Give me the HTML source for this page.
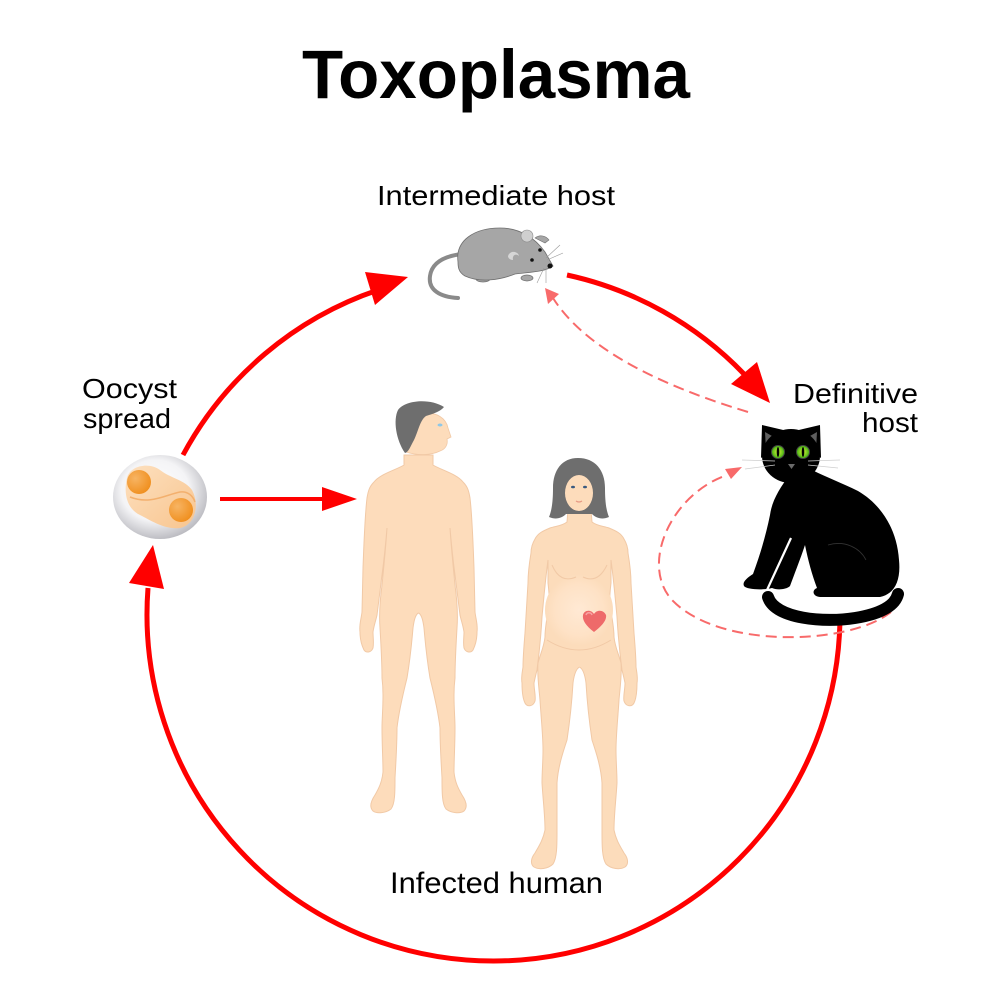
<!DOCTYPE html>
<html><head><meta charset="utf-8"><style>
html,body{margin:0;padding:0;background:#fff;}
svg{display:block;}
text{font-family:"Liberation Sans",Arial,sans-serif;fill:#000;}
</style></head><body>
<svg width="1000" height="1000" viewBox="0 0 1000 1000" xmlns="http://www.w3.org/2000/svg">
<defs>
<radialGradient id="oo" cx="0.45" cy="0.42" r="0.6">
<stop offset="0" stop-color="#ffffff"/><stop offset="0.6" stop-color="#f4f4f6"/><stop offset="1" stop-color="#b9b9bf"/>
</radialGradient>
<linearGradient id="blob" x1="0" y1="0" x2="1" y2="1">
<stop offset="0" stop-color="#fde0bf"/><stop offset="1" stop-color="#f8c58f"/>
</linearGradient>
<radialGradient id="nuc" cx="0.35" cy="0.35" r="0.7">
<stop offset="0" stop-color="#f7b463"/><stop offset="1" stop-color="#f08f1e"/>
</radialGradient>
<radialGradient id="belly" cx="0.5" cy="0.5" r="0.5">
<stop offset="0" stop-color="#ffe9d4"/><stop offset="0.7" stop-color="#fee2c6"/><stop offset="1" stop-color="#fcdcbb"/>
</radialGradient>
<radialGradient id="eye" cx="0.5" cy="0.5" r="0.5">
<stop offset="0" stop-color="#d8f53a"/><stop offset="1" stop-color="#3fae12"/>
</radialGradient>
<g id="manhalf">
<path d="M418.5 455 L404 455 L404 465 C396 470 380 474 374 482 C369 487 368 492 367 498 C365 515 364 540 363 568 L362 612 C361 620 359 625 360 632 C360 640 362 646 364 650 C366 653 371 653 373 648 C374 643 373 637 373 632 C374 625 376 620 377 615 L382 575 C384 560 386 540 387 528 C386 545 384 565 382 585 C380 600 379 615 380 628 C381 645 382 662 382 678 C383 686 383 690 383 695 C383 710 382 718 382 728 C382 745 383 760 383 772 C382 782 379 788 375 795 C371 801 369 807 373 811 C377 814 386 813 391 809 C395 804 395 792 395 778 C396 760 397 745 397 728 C399 710 404 690 407 678 C410 660 412 640 413 628 C414 620 416 614 418.5 613" fill="#fddcbb" stroke="#f1c9a6" stroke-width="1"/>
</g>
<g id="womanhalf">
<path d="M579.5 510 L568 510 L567 522 C562 526 556 526 550 528 C543 531 538 533 535 539 C532 544 531 548 531 553 C529 565 528 575 528 583 C527 600 526 617 525 633 C524 645 523 657 523 667 C522 674 521 678 522 683 C522 692 523 699 525 703 C527 707 533 707 535 701 C536 696 534 690 534 683 C535 678 536 674 537 670 C539 655 541 635 542 617 C544 595 546 575 548 560 C548 570 548 577 548 583 C549 592 550 600 549 607 C547 617 545 627 545 637 C544 647 540 655 538 663 C537 675 539 688 540 700 C541 717 543 735 543 750 C543 762 542 772 542 783 C543 800 545 815 545 830 C543 840 539 846 535 853 C531 858 530 864 534 867 C539 870 548 869 553 864 C557 858 557 845 557 833 C557 815 557 800 557 783 C558 767 563 752 567 740 C570 720 572 700 573 683 C574 675 576 669 579.5 667" fill="#fcdcbb" stroke="#f1c9a6" stroke-width="1"/>
</g>
</defs>

<!-- Title & labels -->
<text x="302" y="98" font-size="69" font-weight="bold" textLength="388" lengthAdjust="spacingAndGlyphs">Toxoplasma</text>
<text x="377" y="205" font-size="28" textLength="238" lengthAdjust="spacingAndGlyphs">Intermediate host</text>
<text x="82" y="398" font-size="28" textLength="95" lengthAdjust="spacingAndGlyphs">Oocyst</text>
<text x="83" y="428" font-size="28" textLength="88" lengthAdjust="spacingAndGlyphs">spread</text>
<text x="793" y="403" font-size="28" textLength="125" lengthAdjust="spacingAndGlyphs">Definitive</text>
<text x="862" y="432" font-size="28" textLength="56" lengthAdjust="spacingAndGlyphs">host</text>
<text x="390" y="893" font-size="30" textLength="213" lengthAdjust="spacingAndGlyphs">Infected human</text>

<!-- Main red cycle arrows -->
<g fill="none" stroke="#ff0000" stroke-width="5">
<path d="M183 455 A348 348 0 0 1 378 290"/>
<path d="M567 275 A348 348 0 0 1 744 374"/>
<path d="M840 614.5 A346.5 346.5 0 0 1 493.5 961 A346.5 346.5 0 0 1 148 588"/>
<path d="M220 499 L330 499" stroke-width="4"/>
</g>
<g fill="#ff0000">
<polygon points="408,277 365,272 375,305"/>
<polygon points="770,403 731,384 757,362"/>
<polygon points="153,545 129,583 164,589"/>
<polygon points="357,499 322,487 322,511"/>
</g>

<!-- Dashed arrows -->
<g fill="none" stroke="#f86a6a" stroke-width="2" stroke-dasharray="11 6">
<path d="M748 412 Q596 366 553 298"/>
<path d="M891 612 C850 645 720 650 672 600 C640 565 670 495 727 475"/>
</g>
<g fill="#f86a6a">
<polygon points="545,288 548,304 559,294"/>
<polygon points="742,467 725,469 731,479"/>
</g>

<!-- Oocyst -->
<ellipse cx="160" cy="497" rx="47" ry="42" fill="url(#oo)"/>
<path d="M127 478 C130 465 150 462 160 470 C170 478 185 480 192 490 C200 505 195 525 180 528 C165 530 150 520 140 515 C125 508 124 490 127 478 Z" fill="url(#blob)"/>
<path d="M130 497 C150 505 165 495 180 492 C188 491 193 496 195 502" fill="none" stroke="#f3b06e" stroke-width="1.5"/>
<circle cx="139" cy="482" r="12" fill="url(#nuc)"/>
<circle cx="181" cy="510" r="12" fill="url(#nuc)"/>

<!-- Mouse -->
<path d="M462 254 C445 256 432 262 430 276 C428 290 440 297 458 298" fill="none" stroke="#8a8a8a" stroke-width="4" stroke-linecap="round"/>
<ellipse cx="483" cy="279" rx="7" ry="3" fill="#a6a6a6" stroke="#6f6f6f" stroke-width="0.7"/>
<ellipse cx="527" cy="278" rx="6" ry="3" fill="#a6a6a6" stroke="#6f6f6f" stroke-width="0.7"/>
<path d="M458 262 C455 240 475 228 500 228 C520 228 535 238 545 252 L553 266 C545 272 530 272 515 274 C500 280 480 283 465 276 C458 272 458 266 458 262 Z" fill="#a6a6a6" stroke="#6f6f6f" stroke-width="0.8"/>
<path d="M535 238 C540 234 546 236 549 240 L545 243 Z" fill="#a6a6a6" stroke="#6f6f6f" stroke-width="0.6"/>
<circle cx="527" cy="236" r="6" fill="#cfcfcf" stroke="#8a8a8a" stroke-width="0.6"/>
<path d="M508 256 C510 250 518 251 519 256 C516 253 512 255 513 260 C510 260 508 258 508 256 Z" fill="#d6d6d6"/>
<circle cx="540" cy="250" r="1.8" fill="#111"/>
<circle cx="532" cy="260" r="1.8" fill="#111"/>
<circle cx="550" cy="266" r="2.5" fill="#111"/>
<g stroke="#999" stroke-width="0.6" fill="none">
<path d="M546 258 L560 245"/><path d="M547 260 L563 253"/><path d="M544 268 L537 283"/><path d="M546 268 L546 283"/>
</g>

<!-- Man -->
<use href="#manhalf"/>
<use href="#manhalf" transform="translate(837,0) scale(-1,1)"/>
<path d="M406 452 C410 438 418 420 426 414 C436 412 446 418 448 428 L451 437 L447 439 C448 444 446 449 440 451 C432 455 418 456 406 452 Z" fill="#fddcbb" stroke="#f1c9a6" stroke-width="0.8"/>
<path d="M405 453 C396 440 393 420 398 410 C405 400 430 398 444 407 C440 412 432 414 426 416 C420 420 418 432 414 440 C411 445 409 452 405 453 Z" fill="#6e6e6e"/>
<ellipse cx="440" cy="425" rx="2.5" ry="1.5" fill="#8ec8e8"/>

<!-- Woman -->
<use href="#womanhalf"/>
<use href="#womanhalf" transform="translate(1159,0) scale(-1,1)"/>
<path d="M578 458 C562 458 553 470 553 488 C553 500 552 510 549 517 C556 520 562 518 566 514 L592 514 C596 518 602 520 609 517 C606 510 605 500 605 488 C605 470 595 458 578 458 Z" fill="#6e6e6e"/>
<ellipse cx="579" cy="493" rx="14" ry="18" fill="#fddcbb"/>
<path d="M567 478 C571 474 582 472 592 478 L592 470 C585 466 572 466 567 470 Z" fill="#6e6e6e"/>
<ellipse cx="573" cy="487" rx="2" ry="1.3" fill="#3a5a80"/>
<ellipse cx="585" cy="487" rx="2" ry="1.3" fill="#3a5a80"/>
<path d="M576 501 Q579 503 582 501" fill="none" stroke="#e79a85" stroke-width="1.2"/>
<ellipse cx="579" cy="610" rx="34" ry="36" fill="url(#belly)"/>
<g fill="none" stroke="#f1c9a6" stroke-width="1">
<path d="M552 565 Q560 584 576 577"/><path d="M583 577 Q598 584 607 565"/>
<path d="M547 640 Q579 660 611 640"/>
</g>
<path d="M594 632 C586 626 582 620 583 615 C584 610 591 609 594 614 C597 609 604 610 606 615 C607 620 602 626 594 632 Z" fill="#ee6a6a"/>
<path d="M586 615 C587 612 591 612 592 615" fill="none" stroke="#f7a3a3" stroke-width="1.5"/>

<!-- Cat -->
<path d="M790 474 C780 488 772 500 770 515 C766 535 760 555 753 574 C747 578 742 582 744 586 C747 590 765 590 772 588 C776 590 786 590 790 586 C794 575 800 560 805 545 C808 560 812 575 817 588 C812 590 812 596 820 597 L880 597 C895 594 901 580 899 560 C897 530 882 505 858 491 C842 483 828 478 812 470 Z" fill="#000"/>
<path d="M791 538 L767 590" stroke="#fff" stroke-width="2.2"/>
<path d="M768 597 C775 619 825 623 855 618 C880 614 895 606 898 594" fill="none" stroke="#000" stroke-width="12" stroke-linecap="round"/>
<path d="M762 425 L761 458 L796 433 Z" fill="#000"/>
<path d="M820 425 L821 458 L786 433 Z" fill="#000"/>
<path d="M765 432 L766 450 L779 440 Z" fill="#5e5e5e"/>
<path d="M817 432 L816 450 L803 440 Z" fill="#5e5e5e"/>
<ellipse cx="791" cy="456" rx="29" ry="27" fill="#000"/>
<ellipse cx="778" cy="452" rx="6.5" ry="6.5" fill="url(#eye)" stroke="#444" stroke-width="1"/>
<ellipse cx="803" cy="452" rx="6.5" ry="6.5" fill="url(#eye)" stroke="#444" stroke-width="1"/>
<ellipse cx="778" cy="452" rx="1.3" ry="5" fill="#000"/>
<ellipse cx="803" cy="452" rx="1.3" ry="5" fill="#000"/>
<path d="M788 464 L795 464 L791.5 469 Z" fill="#6a6a6a"/>
<g stroke="#cfcfcf" stroke-width="0.8" fill="none">
<path d="M775 461 L742 460"/><path d="M775 465 L745 469"/>
<path d="M808 461 L840 460"/><path d="M808 465 L838 468"/>
</g>
<path d="M828 545 C845 540 860 548 866 560" fill="none" stroke="#333" stroke-width="0.8"/>
</svg>
</body></html>
